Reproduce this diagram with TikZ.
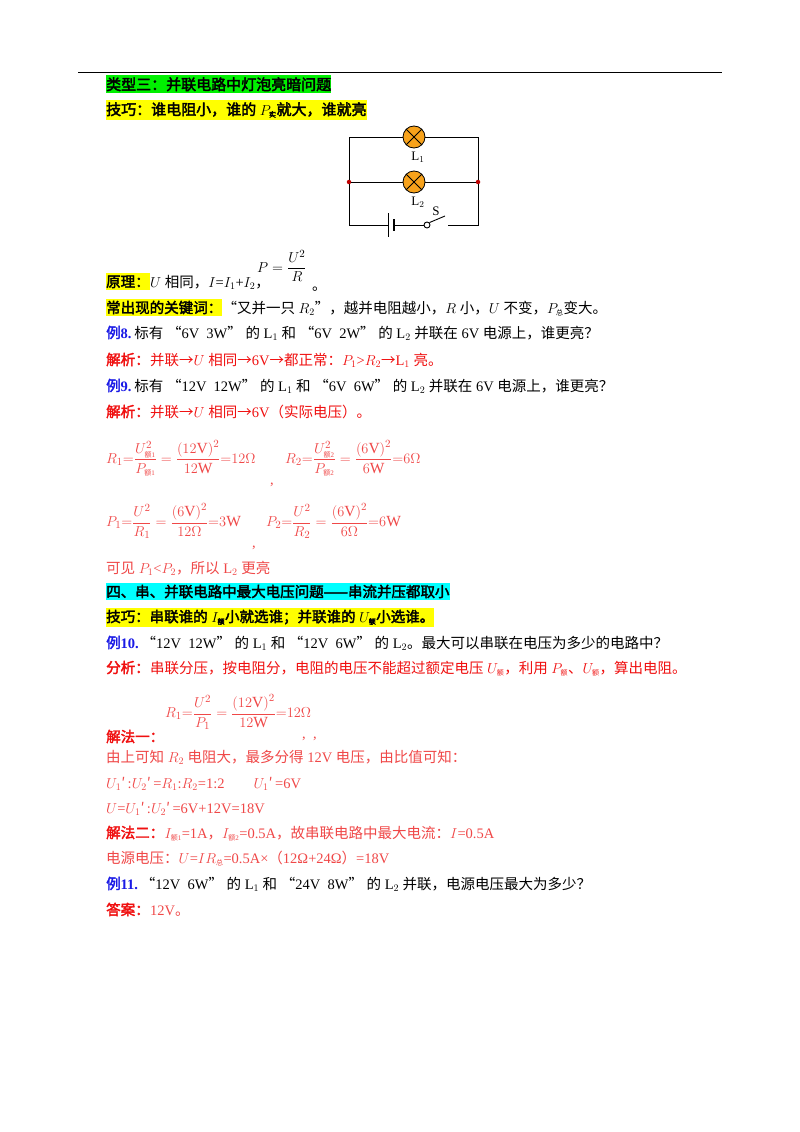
\documentclass[tikz,border=0pt]{standalone}
\usepackage{amsmath}
\usepackage{fontspec}
\setmainfont{Liberation Serif}
\newfontfamily\cjk{Noto Sans CJK SC}[AutoFakeBold=2.5]
\usetikzlibrary{positioning,calc}
\definecolor{myRed}{HTML}{F01010}
\definecolor{myRedL}{HTML}{F04848}
\definecolor{myBlue}{HTML}{1A1AE6}
\definecolor{myGreen}{HTML}{00F000}
\definecolor{myYellow}{HTML}{FFFF00}
\definecolor{myCyan}{HTML}{00FFFF}
\definecolor{lampOrange}{HTML}{F7A21B}
% automatic switch to the CJK font
\XeTeXinterchartokenstate=1
\newXeTeXintercharclass\CJKclass
\newcount\cjkc
\cjkc="4E00 \loop\XeTeXcharclass\cjkc=\CJKclass \ifnum\cjkc<"9FA5 \advance\cjkc 1 \repeat
\cjkc="3000 \loop\XeTeXcharclass\cjkc=\CJKclass \ifnum\cjkc<"303F \advance\cjkc 1 \repeat
\cjkc="FF00 \loop\XeTeXcharclass\cjkc=\CJKclass \ifnum\cjkc<"FF5E \advance\cjkc 1 \repeat
\XeTeXcharclass"201C=\CJKclass
\XeTeXcharclass"201D=\CJKclass
\XeTeXcharclass"2192=\CJKclass
\XeTeXcharclass"2032=\CJKclass
\XeTeXcharclass"2014=\CJKclass
\XeTeXinterchartoks 0 \CJKclass={\cjk}
\XeTeXinterchartoks 4095 \CJKclass={\cjk}
\XeTeXinterchartoks \CJKclass 0={\rmfamily}
\XeTeXinterchartoks \CJKclass 4095={\rmfamily}
\newcommand\bodysize{\fontsize{14.5}{17}\selectfont}
\newcommand\e[1]{_{\mbox{\fontsize{7}{8}\selectfont #1}}}
\tikzset{
  txt/.style={anchor=base west, inner sep=0pt, font=\bodysize},
  hl/.style={txt, fill=#1, inner ysep=2pt, font=\bodysize\bfseries},
  ex/.style={txt, myBlue, font=\bodysize\bfseries},
  ans/.style={txt, myRed, font=\bodysize\bfseries},
  formula/.style={anchor=west, inner sep=0pt, myRedL, font=\fontsize{15.5}{18}\selectfont},
  wire/.style={line width=0.9pt},
  lamp/.style={circle, draw, line width=0.8pt, fill=lampOrange, minimum size=22pt, inner sep=0pt,
    path picture={\draw[line width=0.8pt] (path picture bounding box.north west) -- (path picture bounding box.south east)
      (path picture bounding box.north east) -- (path picture bounding box.south west);}},
  joint/.style={circle, fill=red!75!black, inner sep=0pt, minimum size=4.5pt}
}
\begin{document}
\begin{tikzpicture}[x=1pt,y=-1pt]
  \useasboundingbox[fill=white] (0,0) rectangle (800,1132);
  \draw[line width=0.6pt] (78,72) -- (722,72);

  \node[hl=myGreen, font=\fontsize{15}{17}\selectfont\bfseries] (title3) at (106,90) {类型三：并联电路中灯泡亮暗问题};
  \node[hl=myYellow, font=\fontsize{15}{17}\selectfont\bfseries] (tip1) at (106,115) {技巧：谁电阻小，谁的 $P\e{实}$就大，谁就亮};

  % 电路图
  \coordinate (TL) at (349,137);
  \coordinate (TR) at (478,137);
  \coordinate (BL) at (349,225);
  \coordinate (BR) at (478,225);
  \node[joint] (ML) at (349,182) {};
  \node[joint] (MR) at (478,182) {};
  \node[lamp] (lampA) at (414,137) {};
  \node[lamp] (lampB) at (414,182) {};
  \node[font=\fontsize{13}{15}\selectfont, inner sep=0pt] (labA) at (418,157) {L$_1$};
  \node[font=\fontsize{13}{15}\selectfont, inner sep=0pt] (labB) at (418,202) {L$_2$};
  \coordinate (batL) at (388,225);
  \coordinate (batR) at (394,225);
  \node[circle, draw, wire, fill=white, inner sep=0pt, minimum size=6pt] (swA) at (427,225) {};
  \coordinate (swB) at (445,216);
  \coordinate (swC) at (448,225);
  \node[font=\fontsize{13}{15}\selectfont, inner sep=0pt] (labS) at (436,211) {S};
  \draw[wire] (lampA) -- (TL) -- (ML) -- (BL) -- (batL);
  \draw[wire] (lampA) -- (TR) -- (MR) -- (BR) -- (swC);
  \draw[wire] (ML) -- (lampB) -- (MR);
  \draw[wire] (batR) -- (swA);
  \draw[wire] (swA.north east) -- (swB);
  \draw[line width=1pt] ($(batL)+(0,-12)$) -- ($(batL)+(0,12)$);
  \draw[line width=2.6pt] ($(batR)+(0,-6)$) -- ($(batR)+(0,6)$);

  % 原理
  \node[formula, black] (fP) at (257,266) {$P=\dfrac{U^2}{R}$};
  \node[txt] (dotP) at (312,290) {。};
  \node[hl=myYellow] (yl) at (106,287) {原理：};
  \node[txt] at (yl.base east) {$U$ 相同，$I$=$I_1$+$I_2$，};
  \node[hl=myYellow] (kw) at (106,313) {常出现的关键词：};
  \node[txt] at (kw.base east) {“又并一只 $R_2$”，越并电阻越小，$R$ 小，$U$ 不变，$P\e{总}$变大。};

  \node[ex] (ex8) at (106,338) {例8.};
  \node[txt] at (ex8.base east) {\,标有 “6V\ \ 3W” 的 L$_1$ 和 “6V\ \ 2W” 的 L$_2$ 并联在 6V 电源上，谁更亮？};
  \node[ans] (jx8) at (106,365) {解析：};
  \node[txt, myRed] at (jx8.base east) {并联→$U$ 相同→6V→都正常：$P_1$>$R_2$→L$_1$ 亮。};
  \node[ex] (ex9) at (106,391) {例9.};
  \node[txt] at (ex9.base east) {\,标有 “12V\ \ 12W” 的 L$_1$ 和 “6V\ \ 6W” 的 L$_2$ 并联在 6V 电源上，谁更亮？};
  \node[ans] (jx9) at (106,417) {解析：};
  \node[txt, myRed] at (jx9.base east) {并联→$U$ 相同→6V（实际电压）。};

  \node[formula] (fR1) at (106,458) {$R_1{=}\dfrac{U^2\e{额1}}{P\e{额1}}=\dfrac{\left(12\mathrm{V}\right)^2}{12\mathrm{W}}{=}12\Omega$};
  \node[txt, myRedL] (cm1) at (270,484) {,};
  \node[formula] (fR2) at (285,458) {$R_2{=}\dfrac{U^2\e{额2}}{P\e{额2}}=\dfrac{\left(6\mathrm{V}\right)^2}{6\mathrm{W}}{=}6\Omega$};
  \node[formula] (fP1) at (106,521) {$P_1{=}\dfrac{U^2}{R_1}=\dfrac{\left(6\mathrm{V}\right)^2}{12\Omega}{=}3\mathrm{W}$};
  \node[txt, myRedL] (cm2) at (252,547) {,};
  \node[formula] (fP2) at (266,521) {$P_2{=}\dfrac{U^2}{R_2}=\dfrac{\left(6\mathrm{V}\right)^2}{6\Omega}{=}6\mathrm{W}$};
  \node[txt, myRedL] (seen) at (106,573) {可见 $P_1$<$P_2$，所以 L$_2$ 更亮};

  \node[hl=myCyan] (sec4) at (106,597) {四、串、并联电路中最大电压问题——串流并压都取小};
  \node[hl=myYellow] (tip2) at (106,622) {技巧：串联谁的 $I\e{额}$小就选谁；并联谁的 $U\e{额}$小选谁。};

  \node[ex] (ex10) at (106,648) {例10.};
  \node[txt] at (ex10.base east) {\,“12V\ \ 12W” 的 L$_1$ 和 “12V\ \ 6W” 的 L$_2$。最大可以串联在电压为多少的电路中？};
  \node[ans] (fx10) at (106,673) {分析：};
  \node[txt, myRed] at (fx10.base east) {串联分压，按电阻分，电阻的电压不能超过额定电压 $U\e{额}$，利用 $P\e{额}$、$U\e{额}$，算出电阻。};
  \node[formula] (fR1b) at (165,712) {$R_1{=}\dfrac{U^2}{P_1}=\dfrac{\left(12\mathrm{V}\right)^2}{12\mathrm{W}}{=}12\Omega$};
  \node[ans] (jf1) at (106,742) {解法一：};
  \node[txt, myRedL] (cm3) at (302,738) {,\ \ ,};
  \node[txt, myRedL] (l18) at (106,762) {由上可知 $R_2$ 电阻大，最多分得 12V 电压，由比值可知：};
  \node[txt, myRedL] (l19) at (106,788) {$U_1$′\,:$U_2$′\,=$R_1$:$R_2$=1:2\qquad $U_1$′\,=6V};
  \node[txt, myRedL] (l20) at (106,813) {$U$=$U_1$′\,:$U_2$′\,=6V+12V=18V};
  \node[ans] (jf2) at (106,838) {解法二：};
  \node[txt, myRedL] at (jf2.base east) {$I\e{额1}$=1A，$I\e{额2}$=0.5A，故串联电路中最大电流：$I$=0.5A};
  \node[txt, myRedL] (l22) at (106,863) {电源电压：$U$=$IR\e{总}$=0.5A×（12Ω+24Ω）=18V};
  \node[ex] (ex11) at (106,889) {例11.};
  \node[txt] at (ex11.base east) {\,“12V\ \ 6W” 的 L$_1$ 和 “24V\ \ 8W” 的 L$_2$ 并联，电源电压最大为多少？};
  \node[ans] (da11) at (106,915) {答案：};
  \node[txt, myRedL] at (da11.base east) {12V。};
\end{tikzpicture}
\end{document}
